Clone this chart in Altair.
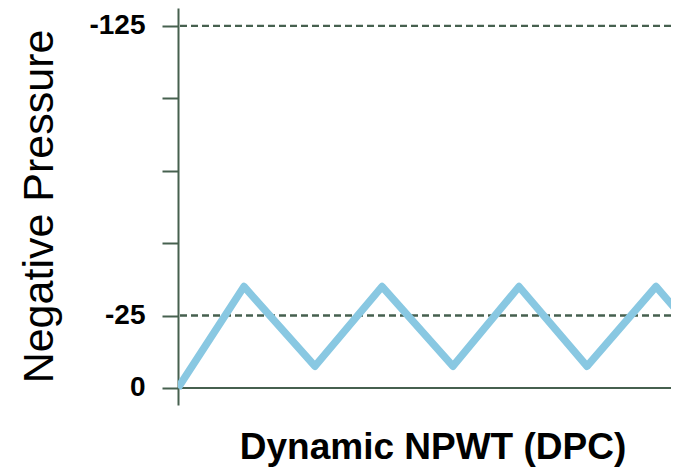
import altair as alt
import pandas as pd

# ---- data ----
time_pts = [0, 66, 137, 204, 275, 341, 409, 478, 547]
pressure = [0, -35, -7.5, -35, -7.5, -35, -7.5, -35, -7.5]

tick_values = [0, -25, -50, -75, -100, -125]
tick_labels = ["0", "-25", "", "", "", "-125"]

solid_levels = [0]
dashed_levels = [-25, -125]

x_title = "Dynamic NPWT (DPC)"
y_title = "Negative Pressure"

AXIS_COLOR = "#46604f"
LINE_COLOR = "#89c8e2"
FONT = "Liberation Sans"

df = pd.DataFrame({"t": time_pts, "p": pressure})
solid_df = pd.DataFrame({"p": solid_levels})
dashed_df = pd.DataFrame({"p": dashed_levels})

label_expr = "".join(
    f"datum.value == {v} ? '{l}' : " for v, l in zip(tick_values, tick_labels)
) + "''"

x_scale = alt.Scale(domain=[0, 493], nice=False, zero=False)
y_scale = alt.Scale(domain=[5.9, -131.2], nice=False, zero=False)

x_enc = alt.X(
    "t:Q",
    scale=x_scale,
    axis=alt.Axis(
        title=x_title, domain=False, ticks=False, labels=False, grid=False,
        titleFont=FONT, titleFontSize=37, titleFontWeight="bold", titleColor="#000000",
        titleX=254.5, titleY=53, titleBaseline="alphabetic", titleAnchor="middle",
        titleAlign="center",
    ),
)
y_enc = alt.Y(
    "p:Q",
    scale=y_scale,
    axis=alt.Axis(
        title=y_title, values=tick_values, labelExpr=label_expr, grid=False,
        domain=True, domainColor=AXIS_COLOR, domainWidth=2,
        ticks=True, tickColor=AXIS_COLOR, tickWidth=2, tickSize=16,
        labelFont=FONT, labelFontSize=28, labelFontWeight="bold", labelColor="#000000",
        labelPadding=17, labelBaseline="middle",
        titleFont=FONT, titleFontSize=43, titleFontWeight="normal", titleColor="#000000",
        titleAngle=270, titleX=-126, titleY=198, titleBaseline="alphabetic", titleAlign="center",
    ),
)

solid_rule = alt.Chart(solid_df).mark_rule(color=AXIS_COLOR, strokeWidth=2).encode(
    y=alt.Y("p:Q", scale=y_scale)
)
dashed_rule = alt.Chart(dashed_df).mark_rule(
    color=AXIS_COLOR, strokeWidth=2.3, strokeDash=[7, 4]
).encode(y=alt.Y("p:Q", scale=y_scale))

line = alt.Chart(df).mark_line(
    color=LINE_COLOR, strokeWidth=7.5, strokeJoin="round", strokeCap="butt", clip=True
).encode(x=x_enc, y=y_enc)

chart = alt.layer(solid_rule, dashed_rule, line).properties(
    width=493,
    height=397,
    autosize=alt.AutoSizeParams(type="none"),
    padding={"left": 170, "top": 0, "right": 0, "bottom": 66},
).configure(background="white", view=alt.ViewConfig(stroke=None))

chart.save("out.html", embed_options={"renderer": "svg", "actions": False})
